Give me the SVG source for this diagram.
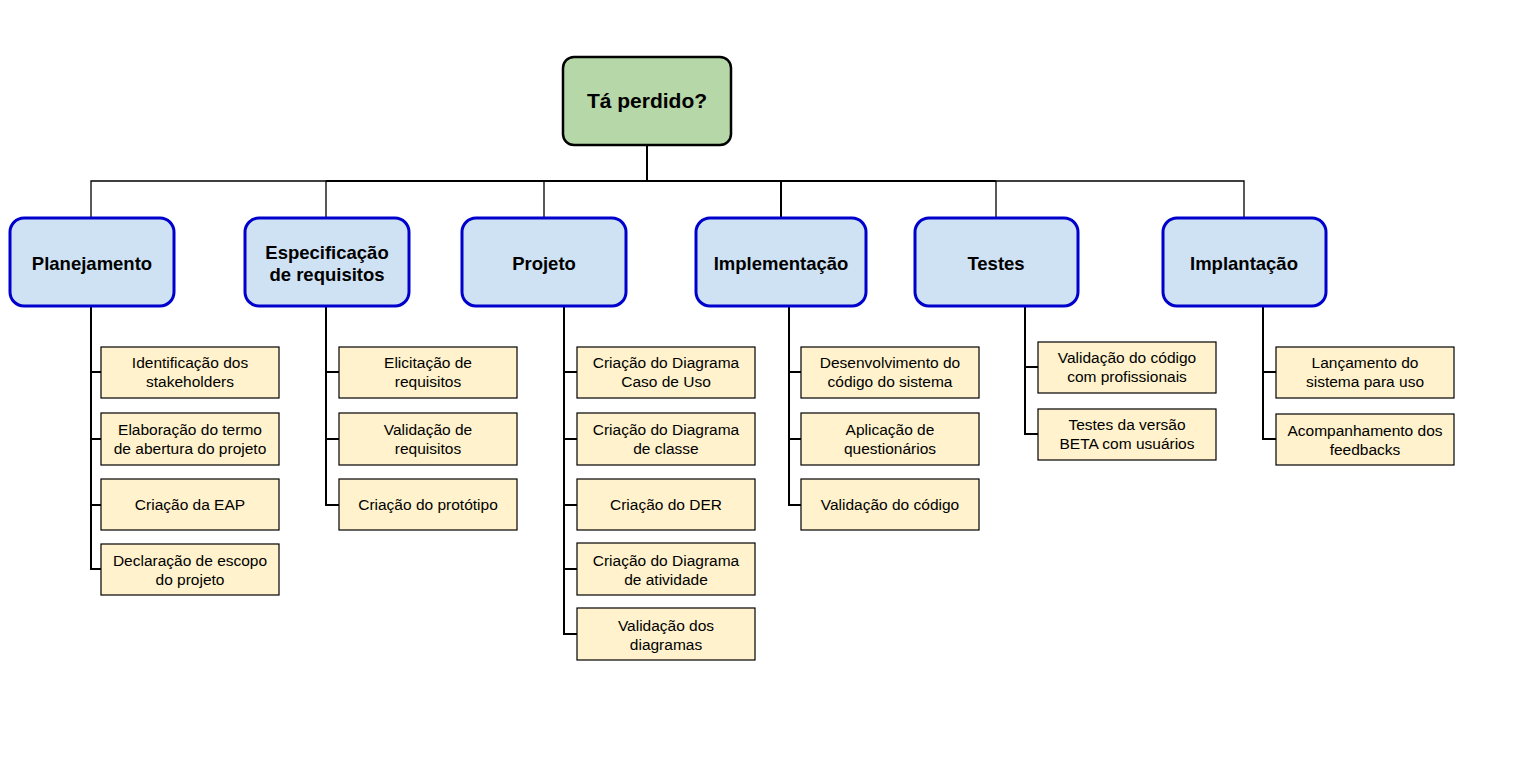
<svg xmlns="http://www.w3.org/2000/svg" width="1518" height="760" viewBox="0 0 1518 760">
<style>
.root{fill:#b6d7a8;stroke:#000;stroke-width:2.5}
.l1{fill:#cfe2f3;stroke:#0000cc;stroke-width:3}
.l2{fill:#fff2cc;stroke:#000;stroke-width:1.2}
.t1{font-family:"Liberation Sans",Arial,sans-serif;font-weight:bold;font-size:18.5px;fill:#000;text-anchor:middle}
.t0{font-family:"Liberation Sans",Arial,sans-serif;font-weight:bold;font-size:21px;fill:#000;text-anchor:middle}
.t2{font-family:"Liberation Sans",Arial,sans-serif;font-size:15.5px;fill:#000;text-anchor:middle}
.c{fill:none;stroke:#000;stroke-width:2}
.ct{fill:none;stroke:#000;stroke-width:1.3}
</style>
<rect width="1518" height="760" fill="#fff"/>
<g id="connectors">
<path class="c" d="M647 145V181"/>
<path class="ct" d="M91 218V181H326"/>
<path class="c" d="M326 181H996"/>
<path class="ct" d="M996 181H1244V218"/>
<path class="ct" d="M326 181V218M544 181V218M996 181V218"/>
<path class="c" d="M781 181V218"/>
<path class="c" d="M91 306V569H101M91 372H101M91 439H101M91 505H101"/>
<path class="c" d="M326 306V505H339M326 372H339M326 439H339"/>
<path class="c" d="M564 306V634H577M564 372H577M564 439H577M564 505H577M564 569H577"/>
<path class="c" d="M789 306V505H801M789 372H801M789 439H801"/>
<path class="c" d="M1025 306V434H1038M1025 367H1038"/>
<path class="c" d="M1263 306V439H1276M1263 372H1276"/>
</g>
<g id="root"><rect class="root" x="563" y="57" width="168" height="88" rx="11"/><text class="t0" x="647" y="108">Tá perdido?</text></g>
<g id="planejamento"><rect class="l1" x="10" y="218" width="164" height="88" rx="14"/><text class="t1" x="92" y="270">Planejamento</text></g>
<g id="especificacao"><rect class="l1" x="245" y="218" width="164" height="88" rx="14"/><text class="t1" x="327" y="259">Especificação</text><text class="t1" x="327" y="281">de requisitos</text></g>
<g id="projeto"><rect class="l1" x="462" y="218" width="164" height="88" rx="14"/><text class="t1" x="544" y="270">Projeto</text></g>
<g id="implementacao"><rect class="l1" x="696" y="218" width="170" height="88" rx="14"/><text class="t1" x="781" y="270">Implementação</text></g>
<g id="testes"><rect class="l1" x="915" y="218" width="163" height="88" rx="14"/><text class="t1" x="996" y="270">Testes</text></g>
<g id="implantacao"><rect class="l1" x="1163" y="218" width="163" height="88" rx="14"/><text class="t1" x="1244" y="270">Implantação</text></g>

<g id="p1"><rect class="l2" x="101" y="347" width="178" height="51"/><text class="t2" x="190" y="368">Identificação dos</text><text class="t2" x="190" y="387">stakeholders</text></g>
<g id="p2"><rect class="l2" x="101" y="413" width="178" height="52"/><text class="t2" x="190" y="435">Elaboração do termo</text><text class="t2" x="190" y="454">de abertura do projeto</text></g>
<g id="p3"><rect class="l2" x="101" y="479" width="178" height="51"/><text class="t2" x="190" y="510">Criação da EAP</text></g>
<g id="p4"><rect class="l2" x="101" y="544" width="178" height="51"/><text class="t2" x="190" y="566">Declaração de escopo</text><text class="t2" x="190" y="585">do projeto</text></g>

<g id="e1"><rect class="l2" x="339" y="347" width="178" height="51"/><text class="t2" x="428" y="368">Elicitação de</text><text class="t2" x="428" y="387">requisitos</text></g>
<g id="e2"><rect class="l2" x="339" y="413" width="178" height="52"/><text class="t2" x="428" y="435">Validação de</text><text class="t2" x="428" y="454">requisitos</text></g>
<g id="e3"><rect class="l2" x="339" y="479" width="178" height="51"/><text class="t2" x="428" y="510">Criação do protótipo</text></g>

<g id="j1"><rect class="l2" x="577" y="347" width="178" height="51"/><text class="t2" x="666" y="368">Criação do Diagrama</text><text class="t2" x="666" y="387">Caso de Uso</text></g>
<g id="j2"><rect class="l2" x="577" y="413" width="178" height="52"/><text class="t2" x="666" y="435">Criação do Diagrama</text><text class="t2" x="666" y="454">de classe</text></g>
<g id="j3"><rect class="l2" x="577" y="479" width="178" height="51"/><text class="t2" x="666" y="510">Criação do DER</text></g>
<g id="j4"><rect class="l2" x="577" y="543" width="178" height="52"/><text class="t2" x="666" y="566">Criação do Diagrama</text><text class="t2" x="666" y="585">de atividade</text></g>
<g id="j5"><rect class="l2" x="577" y="608" width="178" height="52"/><text class="t2" x="666" y="631">Validação dos</text><text class="t2" x="666" y="650">diagramas</text></g>

<g id="i1"><rect class="l2" x="801" y="347" width="178" height="51"/><text class="t2" x="890" y="368">Desenvolvimento do</text><text class="t2" x="890" y="387">código do sistema</text></g>
<g id="i2"><rect class="l2" x="801" y="413" width="178" height="52"/><text class="t2" x="890" y="435">Aplicação de</text><text class="t2" x="890" y="454">questionários</text></g>
<g id="i3"><rect class="l2" x="801" y="479" width="178" height="51"/><text class="t2" x="890" y="510">Validação do código</text></g>

<g id="t1"><rect class="l2" x="1038" y="342" width="178" height="51"/><text class="t2" x="1127" y="363">Validação do código</text><text class="t2" x="1127" y="382">com profissionais</text></g>
<g id="t2"><rect class="l2" x="1038" y="409" width="178" height="51"/><text class="t2" x="1127" y="430">Testes da versão</text><text class="t2" x="1127" y="449">BETA com usuários</text></g>

<g id="m1"><rect class="l2" x="1276" y="347" width="178" height="51"/><text class="t2" x="1365" y="368">Lançamento do</text><text class="t2" x="1365" y="387">sistema para uso</text></g>
<g id="m2"><rect class="l2" x="1276" y="414" width="178" height="51"/><text class="t2" x="1365" y="436">Acompanhamento dos</text><text class="t2" x="1365" y="455">feedbacks</text></g>
</svg>
